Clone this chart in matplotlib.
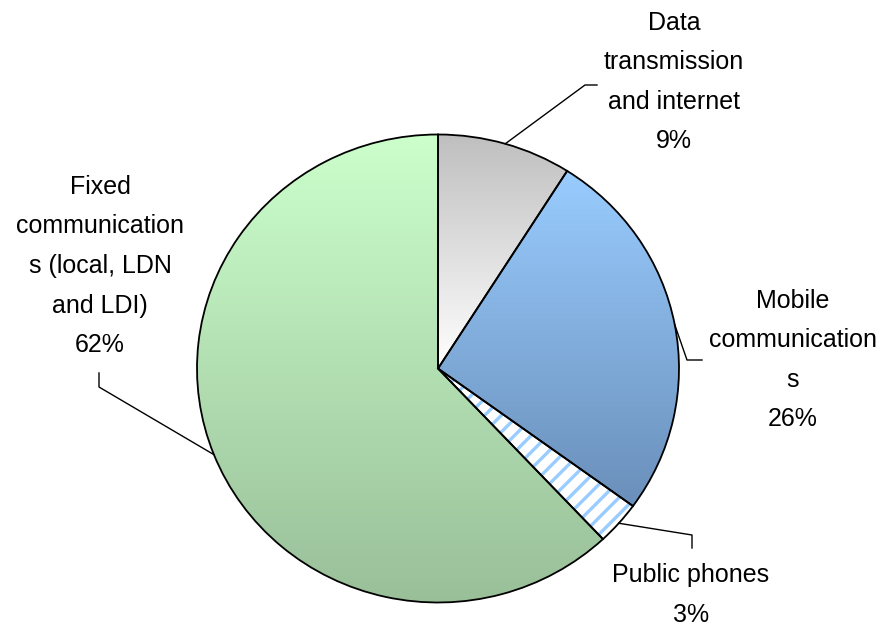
import numpy as np
import matplotlib
matplotlib.use('Agg')
import matplotlib.pyplot as plt
from matplotlib.patches import Wedge
from matplotlib.colors import LinearSegmentedColormap

# ---------------------------------------------------------------------------
# Data
# ---------------------------------------------------------------------------
segments = ['Data\ntransmission\nand internet', 'Mobile\ncommunication\ns',
            'Public phones', 'Fixed\ncommunication\ns (local, LDN\nand LDI)']
shares = [9, 26, 3, 62]

# gradient (top, bottom) per slice; None = hatched slice
fills = [('#BFBFBF', '#FFFFFF'), ('#99CCFF', '#6A8FBA'), None, ('#CCFFCC', '#99BF99')]

# label layout in pixels (block centre) and leader bends
label_pos = [(674, 82), (793, 360), (691, 595), (100, 266)]
leader_bends = [[(585, 85), (597, 85)],
                [(687, 360), (702, 360)],
                [(692, 535), (692, 548)],
                [(99, 387), (99, 373)]]

W, H = 886, 627
cx, cy = 438, 368.5      # pie centre (px)
rx, ry = 241, 234        # pie radii (px)

fig = plt.figure(figsize=(W / 100, H / 100), dpi=100)
ax = fig.add_axes([0, 0, 1, 1])


def px(x, y):
    # pixel (from top-left) -> data units
    return (x - cx) / rx, (cy - y) / ry


wedges, _ = ax.pie(shares, startangle=90, counterclock=False, radius=1,
                   wedgeprops=dict(facecolor='none', edgecolor='black', linewidth=1.3))
for w in wedges:
    w.set_zorder(5)

for w, f in zip(wedges, fills):
    if f is None:
        plt.rcParams['hatch.linewidth'] = 2.4
        hw = Wedge(w.center, w.r, w.theta1, w.theta2, facecolor='white',
                   edgecolor='#99CCFF', hatch='//', linewidth=0, zorder=3)
        ax.add_patch(hw)
        continue
    verts = w.get_path().vertices
    x0, x1 = verts[:, 0].min(), verts[:, 0].max()
    y0, y1 = verts[:, 1].min(), verts[:, 1].max()
    cmap = LinearSegmentedColormap.from_list('g', [f[1], f[0]])
    grad = np.linspace(0, 1, 256).reshape(-1, 1)
    im = ax.imshow(grad, cmap=cmap, extent=(x0, x1, y0, y1), origin='lower',
                   aspect='auto', zorder=2, interpolation='bilinear')
    im.set_clip_path(w)

# labels and leader lines
total = sum(shares)
start = 90.0
for i, (name, val) in enumerate(zip(segments, shares)):
    sweep = 360.0 * val / total
    mid = np.deg2rad(start - sweep / 2)
    start -= sweep
    ex, ey = np.cos(mid), np.sin(mid)
    pts = [(ex, ey)] + [px(*p) for p in leader_bends[i]]
    ax.plot([p[0] for p in pts], [p[1] for p in pts], color='black', lw=1.0, zorder=6)
    tx, ty = px(*label_pos[i])
    ax.text(tx, ty, f'{name}\n{val}%', ha='center', va='center', fontsize=18,
            family='Liberation Sans', linespacing=1.82, zorder=7)

ax.set_aspect('auto')
ax.set_xlim(-cx / rx, (W - cx) / rx)
ax.set_ylim(-(H - cy) / ry, cy / ry)
ax.axis('off')

fig.savefig('out.png', dpi=100)
